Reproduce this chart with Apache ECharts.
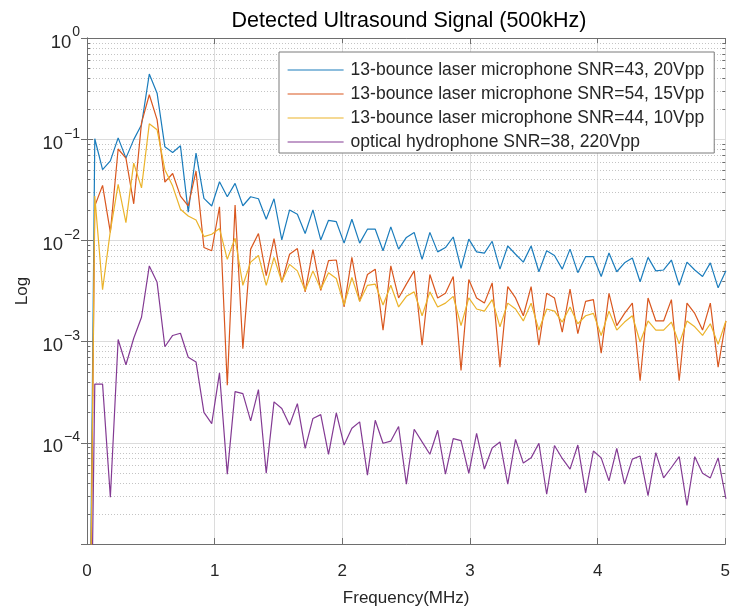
<!DOCTYPE html>
<html><head><meta charset="utf-8">
<script src="https://cdn.jsdelivr.net/npm/echarts@6/dist/echarts.min.js"></script>
<style>html,body{margin:0;padding:0;background:#fff}#chart{width:733px;height:612px}</style>
</head><body><div id="chart"></div>
<script>
// Frequency bins (MHz)
const freq = [0, 0.061, 0.122, 0.183, 0.244, 0.305, 0.366, 0.427, 0.488, 0.549,
  0.610, 0.671, 0.732, 0.793, 0.854, 0.916, 0.977, 1.038, 1.099, 1.160,
  1.221, 1.282, 1.343, 1.404, 1.465, 1.526, 1.587, 1.648, 1.709, 1.770,
  1.831, 1.892, 1.953, 2.014, 2.075, 2.136, 2.197, 2.258, 2.319, 2.380,
  2.441, 2.502, 2.563, 2.625, 2.686, 2.747, 2.808, 2.869, 2.930, 2.991,
  3.052, 3.113, 3.174, 3.235, 3.296, 3.357, 3.418, 3.479, 3.540, 3.601,
  3.662, 3.723, 3.784, 3.845, 3.906, 3.967, 4.028, 4.089, 4.150, 4.211,
  4.272, 4.333, 4.395, 4.456, 4.517, 4.578, 4.639, 4.700, 4.761, 4.822,
  4.883, 4.944, 5.005];

const laser20 = [1e-9, 0.101, 0.050, 0.061, 0.103, 0.065, 0.099, 0.139, 0.44, 0.285,
  0.084, 0.074, 0.086, 0.019, 0.073, 0.026, 0.0219, 0.038, 0.027, 0.0366,
  0.022, 0.027, 0.0258, 0.0162, 0.0258, 0.0101, 0.020, 0.0181, 0.0117, 0.020,
  0.0101, 0.0158, 0.0153, 0.0094, 0.0162, 0.0094, 0.0129, 0.0129, 0.0079, 0.0136,
  0.0082, 0.0107, 0.012, 0.0065, 0.012, 0.0077, 0.0085, 0.0108, 0.0053, 0.0103,
  0.0077, 0.0075, 0.0098, 0.0052, 0.0088, 0.0073, 0.0061, 0.0088, 0.0049, 0.0079,
  0.0071, 0.0052, 0.0082, 0.0048, 0.0069, 0.0069, 0.0044, 0.0075, 0.0049, 0.006,
  0.0067, 0.0039, 0.0068, 0.005, 0.0051, 0.0064, 0.0036, 0.0061, 0.0051, 0.0044,
  0.006, 0.0034, 0.005];

const laser15 = [1e-9, 0.0219, 0.035, 0.012, 0.080, 0.065, 0.023, 0.145, 0.275, 0.156,
  0.0377, 0.0458, 0.0274, 0.0219, 0.0483, 0.0085, 0.0079, 0.0215, 0.00037, 0.0224,
  0.00085, 0.0082, 0.0117, 0.00448, 0.0104, 0.00385, 0.0073, 0.0083, 0.0031, 0.0081,
  0.0032, 0.0063, 0.0064, 0.0022, 0.0068, 0.0025, 0.0046, 0.0052, 0.0013, 0.0056,
  0.0027, 0.0037, 0.005, 0.00092, 0.0046, 0.0027, 0.003, 0.0044, 0.00052, 0.0041,
  0.0027, 0.0024, 0.0038, 0.00056, 0.0035, 0.0027, 0.0018, 0.0035, 0.00092, 0.003,
  0.0027, 0.00124, 0.0033, 0.0012, 0.0025, 0.0026, 0.00077, 0.003, 0.00144, 0.0019,
  0.0024, 0.00041, 0.0027, 0.0016, 0.0016, 0.0026, 0.00041, 0.0024, 0.0019, 0.0013,
  0.0024, 0.00056, 0.0016];

const laser10 = [1e-9, 0.0274, 0.00326, 0.0124, 0.0357, 0.015, 0.058, 0.033, 0.142, 0.124,
  0.050, 0.0344, 0.0203, 0.0174, 0.0159, 0.0109, 0.0115, 0.0131, 0.0065, 0.0105,
  0.0036, 0.0061, 0.0071, 0.0036, 0.0068, 0.0039, 0.0058, 0.005, 0.0032, 0.005,
  0.0033, 0.0048, 0.0042, 0.0023, 0.0043, 0.0025, 0.0036, 0.0037, 0.0023, 0.0036,
  0.0022, 0.0028, 0.0031, 0.0018, 0.0031, 0.0022, 0.0024, 0.0028, 0.00144, 0.0027,
  0.0021, 0.0020, 0.0026, 0.0014, 0.0024, 0.0021, 0.0016, 0.0024, 0.0013, 0.0021,
  0.0020, 0.00156, 0.0022, 0.0015, 0.0018, 0.0019, 0.00115, 0.002, 0.0013, 0.00156,
  0.0018, 0.00099, 0.0016, 0.0013, 0.0013, 0.00156, 0.00095, 0.0016, 0.0014, 0.00115,
  0.0015, 0.00094, 0.0016];

const hydrophone = [1e-9, 3.8e-4, 3.8e-4, 2.9e-5, 1.05e-3, 5.9e-4, 1.08e-3, 1.74e-3, 5.6e-3, 3.85e-3,
  8.9e-4, 1.15e-3, 1.21e-3, 7.0e-4, 6.3e-4, 2.0e-4, 1.55e-4, 4.9e-4, 4.9e-5, 3.2e-4,
  3.06e-4, 1.65e-4, 3.36e-4, 5.0e-5, 2.54e-4, 2.18e-4, 1.5e-4, 2.44e-4, 8.8e-5, 1.74e-4,
  1.9e-4, 7.7e-5, 1.98e-4, 9.5e-5, 1.39e-4, 1.61e-4, 4.8e-5, 1.67e-4, 9.9e-5, 1.04e-4,
  1.45e-4, 3.9e-5, 1.36e-4, 1.02e-4, 7.7e-5, 1.33e-4, 4.9e-5, 1.1e-4, 1.05e-4, 5.0e-5,
  1.24e-4, 5.5e-5, 8.9e-5, 1.02e-4, 3.9e-5, 1.08e-4, 6.3e-5, 7.1e-5, 9.9e-5, 3.1e-5,
  9.4e-5, 7.0e-5, 5.5e-5, 9.5e-5, 3.2e-5, 8.3e-5, 7.1e-5, 4.2e-5, 8.8e-5, 3.9e-5,
  6.9e-5, 7.4e-5, 3.0e-5, 8.0e-5, 4.5e-5, 5.7e-5, 7.3e-5, 2.4e-5, 7.3e-5, 5.0e-5,
  4.5e-5, 7.1e-5, 2.8e-5];

const seriesNames = [
  '13-bounce laser microphone SNR=43, 20Vpp',
  '13-bounce laser microphone SNR=54, 15Vpp',
  '13-bounce laser microphone SNR=44, 10Vpp',
  'optical hydrophone SNR=38, 220Vpp'
];
const seriesValues = [laser20, laser15, laser10, hydrophone];
const colors = ['#1a7cbc', '#d9571f', '#ebb32a', '#833a93'];

const xTicks = [0, 1, 2, 3, 4, 5];
const yDecades = [-5, -4, -3, -2, -1, 0];
const minorMultipliers = [2, 3, 4, 5, 6, 7, 8, 9];

const minorY = [];
yDecades.slice(0, -1).forEach(d => minorMultipliers.forEach(m => minorY.push([0, m * Math.pow(10, d)])));

const FONT = '"Liberation Sans", Arial, Helvetica, sans-serif';
const TXT = '#262626';
const AXC = '#6e6e6e';

const chart = echarts.init(document.getElementById('chart'), null, {renderer: 'canvas'});

const lineSeries = seriesValues.map((vals, i) => ({
  name: seriesNames[i],
  type: 'line',
  xAxisIndex: 0, yAxisIndex: 0,
  data: freq.map((f, j) => [f, vals[j]]),
  symbol: 'none',
  showSymbol: false,
  clip: true,
  lineStyle: {color: colors[i], width: 1.2},
  itemStyle: {color: colors[i]},
  z: 3 + i,
  animation: false
}));

const minorSeries = {
  type: 'custom',
  xAxisIndex: 0, yAxisIndex: 0,
  silent: true,
  z: 1,
  data: minorY,
  encode: {x: 0, y: 1},
  renderItem: function (params, api) {
    const cs = params.coordSys;
    const y = Math.round(api.coord([0, api.value(1)])[1]) + 0.5;
    const x0 = cs.x, x1 = cs.x + cs.width;
    return {
      type: 'group',
      children: [
        {type: 'line', shape: {x1: x0, y1: y, x2: x1, y2: y},
         style: {stroke: '#c4c4c4', lineWidth: 1, lineDash: [1, 2]}},
        {type: 'line', shape: {x1: x0, y1: y, x2: x0 + 3, y2: y},
         style: {stroke: AXC, lineWidth: 1}},
        {type: 'line', shape: {x1: x1 - 3, y1: y, x2: x1, y2: y},
         style: {stroke: AXC, lineWidth: 1}}
      ]
    };
  },
  animation: false
};

const yLabelFormatter = function (v) {
  const e = Math.round(Math.log10(v));
  if (e === yDecades[0]) return '';
  return '{b|10}{s|' + String(e).replace('-', '\u2212') + '}';
};

const option = {
  backgroundColor: '#fff',
  animation: false,
  title: {
    text: 'Detected Ultrasound Signal (500kHz)',
    left: 409, top: 10, textAlign: 'center', padding: 0,
    textStyle: {fontFamily: FONT, fontSize: 21.5, fontWeight: 'normal', color: '#000'}
  },
  legend: {
    data: seriesNames,
    orient: 'vertical',
    left: 279, top: 52,
    padding: [9, 10, 2, 8],
    itemWidth: 56, itemHeight: 14, itemGap: 6,
    backgroundColor: '#fff',
    borderColor: '#7a7a7a', borderWidth: 1, borderRadius: 0,
    selectedMode: false,
    itemStyle: {opacity: 0},
    lineStyle: {width: 1.2},
    textStyle: {fontFamily: FONT, fontSize: 17.5, color: TXT, padding: [0, 0, 0, 2]}
  },
  grid: {left: 87, top: 38, right: 1.5, bottom: 66, containLabel: false},
  xAxis: [{
    type: 'value', min: xTicks[0], max: xTicks[xTicks.length - 1], interval: 1,
    position: 'bottom',
    name: 'Frequency(MHz)', nameLocation: 'middle', nameGap: 46,
    nameTextStyle: {fontFamily: FONT, fontSize: 17, color: TXT},
    axisLine: {show: true, lineStyle: {color: AXC, width: 1}},
    axisTick: {show: true, inside: true, length: 6, lineStyle: {color: AXC}},
    axisLabel: {fontFamily: FONT, fontSize: 17, color: TXT, margin: 19, showMaxLabel: true, showMinLabel: true},
    splitLine: {show: true, lineStyle: {color: '#dcdcdc', width: 1}}
  }, {
    type: 'value', min: xTicks[0], max: xTicks[xTicks.length - 1], interval: 1,
    position: 'top',
    axisLine: {show: true, lineStyle: {color: AXC, width: 1}},
    axisTick: {show: true, inside: true, length: 6, lineStyle: {color: AXC}},
    axisLabel: {show: false},
    splitLine: {show: false}
  }],
  yAxis: [{
    type: 'log', logBase: 10, min: Math.pow(10, yDecades[0]), max: Math.pow(10, yDecades[yDecades.length - 1]),
    splitNumber: 5,
    position: 'left',
    name: 'Log', nameLocation: 'middle', nameGap: 56,
    nameTextStyle: {fontFamily: FONT, fontSize: 17, color: TXT},
    axisLine: {show: true, lineStyle: {color: AXC, width: 1}},
    axisTick: {show: true, inside: true, length: 6, lineStyle: {color: AXC}},
    axisLabel: {
      formatter: yLabelFormatter, margin: 7, showMaxLabel: true, showMinLabel: true,
      rich: {
        b: {fontFamily: FONT, fontSize: 18.5, color: TXT, padding: [9, 0, 0, 0]},
        s: {fontFamily: FONT, fontSize: 14, color: TXT, padding: [0, 0, 11, 1]}
      }
    },
    splitLine: {show: true, lineStyle: {color: '#dcdcdc', width: 1}}
  }, {
    type: 'log', logBase: 10, min: Math.pow(10, yDecades[0]), max: Math.pow(10, yDecades[yDecades.length - 1]),
    splitNumber: 5,
    position: 'right',
    axisLine: {show: true, lineStyle: {color: AXC, width: 1}},
    axisTick: {show: true, inside: true, length: 6, lineStyle: {color: AXC}},
    axisLabel: {show: false},
    splitLine: {show: false}
  }],
  series: [minorSeries].concat(lineSeries)
};

chart.setOption(option);
</script>
</body></html>
